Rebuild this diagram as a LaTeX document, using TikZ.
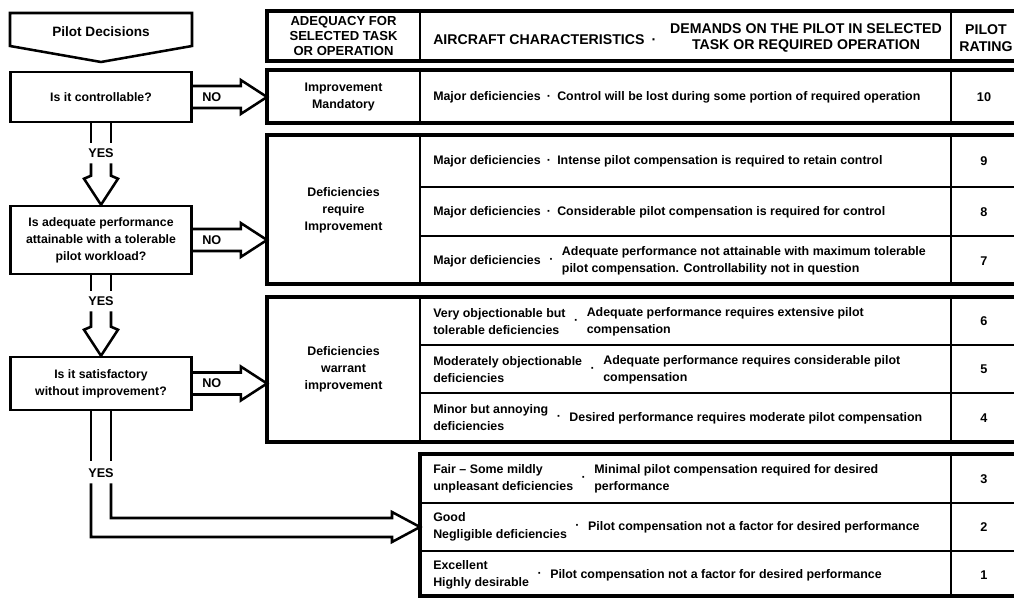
\documentclass[tikz,border=0pt]{standalone}
\usepackage{fontspec}
\setmainfont{Liberation Sans}
\usetikzlibrary{calc,positioning}

\begin{document}
\begin{tikzpicture}[x=0.75pt,y=-0.75pt,line join=miter]
	\tikzset{
		flow/.style={line width=1.9pt},
		frame/.style={line width=2.4pt},
		rule/.style={line width=1.6pt},
		qbox/.style={draw, line width=1.9pt, minimum width=135.75pt, inner sep=2pt, align=center,
				font=\fontsize{9.2}{12.8}\selectfont\bfseries},
		txt/.style={inner sep=0pt, align=left, anchor=west, font=\fontsize{9.3}{12.8}\selectfont\bfseries},
		mid/.style={inner sep=0pt, align=center, font=\fontsize{9.3}{12.8}\selectfont\bfseries},
		hdr/.style={inner sep=0pt, align=center, font=\fontsize{10.6}{10.6}\selectfont\bfseries},
		lab/.style={inner sep=0pt, font=\fontsize{9.5}{10}\selectfont\bfseries},
	}
	\useasboundingbox (0,0) rectangle (1014,598);

	% decisions
	\draw[flow] (10,13) -- (192,13) -- (192,46) -- (101,62) -- (10,46) -- cycle;
	\node[lab, font=\fontsize{10.2}{11}\selectfont\bfseries] (PD) at (101,32) {Pilot Decisions};
	\node[qbox, minimum height=37.5pt] (Q1) at (101,97) {Is it controllable?};
	\node[qbox, minimum height=51pt] (Q2) at (101,240)
		{Is adequate performance\\attainable with a tolerable\\pilot workload?};
	\node[qbox, minimum height=39.75pt] (Q3) at (101,383.5)
		{Is it satisfactory\\without improvement?};

	% table
	\coordinate (TL) at (267,0);
	\draw[frame] (267,11) rectangle (1020,61);
	\draw[frame] (267,70) rectangle (1020,123);
	\draw[frame] (267,135) rectangle (1020,284);
	\draw[frame] (267,297) rectangle (1020,442);
	\draw[frame] (420,454) rectangle (1020,596);
	\foreach \t/\b in {11/61,70/123,135/284,297/442,454/596}
		{
			\draw[rule] (420,\t) -- (420,\b) (951,\t) -- (951,\b);
		}
	\foreach \y in {187,236,345,393,503,551}
		{
			\draw[rule] (420,\y) -- (1020,\y);
		}

	\node[hdr, font=\fontsize{9.8}{11}\selectfont\bfseries] (HA) at (343.5,36)
		{ADEQUACY FOR\\SELECTED TASK\\OR OPERATION};
	\node[hdr, anchor=west] (HC) at (433,40) {AIRCRAFT CHARACTERISTICS\enspace·};
	\node[hdr] (HD) at (806,38) {DEMANDS ON THE PILOT IN SELECTED\\[2pt]TASK OR REQUIRED OPERATION};
	\node[hdr] (HR) at (986,38) {PILOT\\[2pt]RATING};

	\node[mid] (A10) at (343.5,97) {Improvement\\Mandatory};
	\node[mid] (A97) at (343.5,210) {Deficiencies\\require\\Improvement};
	\node[mid] (A64) at (343.5,369.5) {Deficiencies\\warrant\\improvement};

	\node[txt] (C10) at (433,97)
		{Major deficiencies\enspace·\enspace Control will be lost during some portion of required operation};
	\node[txt] (C9) at (433,161)
		{Major deficiencies\enspace·\enspace Intense pilot compensation is required to retain control};
	\node[txt] (C8) at (433,212)
		{Major deficiencies\enspace·\enspace Considerable pilot compensation is required for control};
	\node[txt] (L7) at (433,261) {Major deficiencies};
	\node[txt] (L6) at (433,322) {Very objectionable but\\tolerable deficiencies};
	\node[txt] (L5) at (433,370) {Moderately objectionable\\deficiencies};
	\node[txt] (L4) at (433,418) {Minor but annoying\\deficiencies};
	\node[txt] (L3) at (433,479) {Fair -- Some mildly\\unpleasant deficiencies};
	\node[txt] (L2) at (433,527) {Good\\Negligible deficiencies};
	\node[txt] (L1) at (433,575) {Excellent\\Highly desirable};
	\foreach \r in {7,...,1}
		{
			\node[txt, right=6pt of L\r] (D\r) {·};
		}
	\node[txt, right=6pt of D7] (R7)
		{Adequate performance not attainable with maximum tolerable\\pilot compensation. Controllability not in question};
	\node[txt, right=6pt of D6] (R6) {Adequate performance requires extensive pilot\\compensation};
	\node[txt, right=6pt of D5] (R5) {Adequate performance requires considerable pilot\\compensation};
	\node[txt, right=6pt of D4] (R4) {Desired performance requires moderate pilot compensation};
	\node[txt, right=6pt of D3] (R3) {Minimal pilot compensation required for desired\\performance};
	\node[txt, right=6pt of D2] (R2) {Pilot compensation not a factor for desired performance};
	\node[txt, right=6pt of D1] (R1) {Pilot compensation not a factor for desired performance};

	\foreach \r/\y in {10/97,9/161,8/212,7/261,6/321,5/369,4/418,3/479,2/527,1/575}
		{
			\node[lab] (N\r) at (984,\y) {\r};
		}

	% NO arrows
	\foreach \q in {Q1,Q2,Q3}
		{
			\draw[flow] ($(\q.east)+(0,-11)$) -- ($(\q.east)+(48,-11)$) -- ($(\q.east)+(48,-17)$)
			-- (TL |- \q.east) -- ($(\q.east)+(48,17)$) -- ($(\q.east)+(48,11)$) -- ($(\q.east)+(0,11)$);
			\node[lab] (NO\q) at ($(\q.east)+(19,0)$) {NO};
		}

	% YES arrows
	\foreach \a/\b/\g/\y in {Q1/Q2/20/1,Q2/Q3/16/2}
		{
			\draw[flow] ($(\a.south)+(-10,0)$) -- ++(0,\g) ($(\a.south)+(10,0)$) -- ++(0,\g);
			\node[lab] (Y\y) at ($(\a.south)+(0,\g+10)$) {YES};
			\draw[flow] ($(\a.south)+(-10,\g+20)$) -- ($(\b.north)+(-10,-29)$) -- ($(\b.north)+(-17,-26)$)
			-- (\b.north) -- ($(\b.north)+(17,-26)$) -- ($(\b.north)+(10,-29)$) -- ($(\a.south)+(10,\g+20)$);
		}
	\coordinate (G) at (420,527);
	\draw[flow] ($(Q3.south)+(-10,0)$) -- ++(0,50) ($(Q3.south)+(10,0)$) -- ++(0,50);
	\node[lab] (Y3) at ($(Q3.south)+(0,62)$) {YES};
	\draw[flow] ($(Q3.south)+(-10,72)$) |- ($(G)+(-28,10)$) -- ($(G)+(-28,15)$) -- (G)
	-- ($(G)+(-28,-15)$) -- ($(G)+(-28,-9)$) -| ($(Q3.south)+(10,72)$);
\end{tikzpicture}
\end{document}
